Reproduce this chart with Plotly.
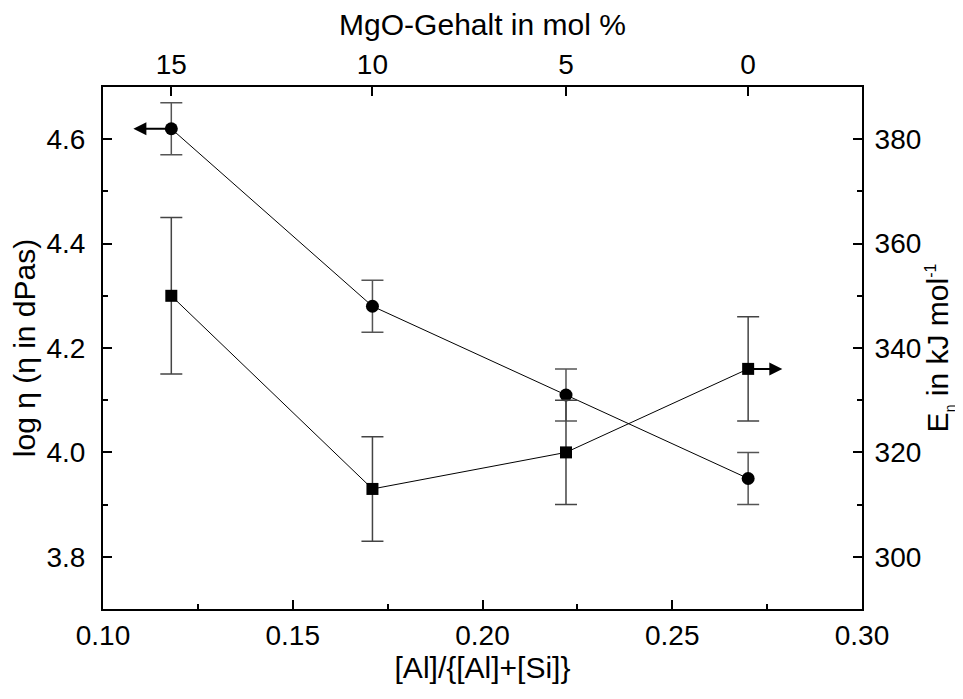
import plotly.graph_objects as go

# data
al_ratio = [0.118, 0.171, 0.222, 0.270]
log_eta = [4.62, 4.28, 4.11, 3.95]
log_eta_err = [0.05, 0.05, 0.05, 0.05]
e_eta = [350, 313, 320, 336]
e_eta_err = [15, 10, 10, 10]
mgo_ticks = ["15", "10", "5", "0"]
arrow_tip_circle = 0.108
arrow_tip_square = 0.279

FONT = "Liberation Sans, Arial, sans-serif"
FS = 28
FT = 30

fig = go.Figure()

fig.add_trace(go.Scatter(
    x=al_ratio, y=log_eta, mode="lines+markers",
    line=dict(color="black", width=1),
    marker=dict(symbol="circle", size=13, color="black"),
    error_y=dict(type="data", array=log_eta_err, color="#555555", thickness=1.5, width=11),
    xaxis="x", yaxis="y", showlegend=False))

fig.add_trace(go.Scatter(
    x=al_ratio, y=e_eta, mode="lines+markers",
    line=dict(color="black", width=1),
    marker=dict(symbol="square", size=12, color="black"),
    error_y=dict(type="data", array=e_eta_err, color="#444444", thickness=1.5, width=11),
    xaxis="x", yaxis="y2", showlegend=False))

# invisible trace to anchor top axis
fig.add_trace(go.Scatter(x=al_ratio, y=log_eta, mode="markers", marker=dict(opacity=0),
                         xaxis="x2", yaxis="y", showlegend=False, hoverinfo="skip"))

fig.add_annotation(x=arrow_tip_circle, y=log_eta[0], ax=al_ratio[0], ay=log_eta[0],
                   xref="x", yref="y", axref="x", ayref="y", text="", showarrow=True,
                   arrowhead=2, arrowsize=1.3, arrowwidth=2, arrowcolor="black",
                   standoff=0, startstandoff=0)
fig.add_annotation(x=arrow_tip_square, y=e_eta[3], ax=al_ratio[3], ay=e_eta[3],
                   xref="x", yref="y2", axref="x", ayref="y2", text="", showarrow=True,
                   arrowhead=2, arrowsize=1.3, arrowwidth=2, arrowcolor="black",
                   standoff=0, startstandoff=0)

axis_common = dict(showline=True, linecolor="black", linewidth=2, ticks="inside",
                   tickcolor="black", tickwidth=1.5, ticklen=9, showgrid=False, zeroline=False,
                   tickfont=dict(family=FONT, size=FS, color="black"))

fig.update_layout(
    width=955, height=691,
    margin=dict(l=95, r=101, t=77, b=90),
    paper_bgcolor="white", plot_bgcolor="white",
    font=dict(family=FONT, size=FS, color="black"),
    xaxis=dict(range=[0.10, 0.30], tickvals=[0.10, 0.15, 0.20, 0.25, 0.30],
               ticktext=["0.10", "0.15", "0.20", "0.25", "0.30"],
               minor=dict(tickvals=[0.125, 0.175, 0.225, 0.275], ticklen=5, ticks="inside",
                          tickcolor="black", tickwidth=1.5),
               title=dict(text="[Al]/{[Al]+[Si]}", font=dict(family=FONT, size=FT), standoff=4),
               **axis_common),
    xaxis2=dict(range=[0.10, 0.30], overlaying="x", side="top", anchor="y",
                tickvals=al_ratio, ticktext=mgo_ticks,
                title=dict(text="MgO-Gehalt in mol %", font=dict(family=FONT, size=FT), standoff=8),
                **axis_common),
    yaxis=dict(range=[3.7, 4.7], tickvals=[3.8, 4.0, 4.2, 4.4, 4.6],
               ticktext=["3.8", "4.0", "4.2", "4.4", "4.6"],
               ticklabelstandoff=10,
               minor=dict(tickvals=[3.9, 4.1, 4.3, 4.5], ticklen=5, ticks="inside",
                          tickcolor="black", tickwidth=1.5),
               title=dict(text="log η (η in dPas)", font=dict(family=FONT, size=FT), standoff=2),
               **axis_common),
    yaxis2=dict(range=[290, 390], overlaying="y", side="right", anchor="x",
                tickvals=[300, 320, 340, 360, 380],
                ticklabelstandoff=5,
                minor=dict(tickvals=[310, 330, 350, 370], ticklen=5, ticks="inside",
                           tickcolor="black", tickwidth=1.5),
                title=dict(text="E<sub><span style='font-size:14px'>η</span></sub> in kJ mol<sup><span style='font-size:16px'>-1</span></sup>",
                           font=dict(family=FONT, size=FT), standoff=0),
                **axis_common),
)

fig.write_html("out.html")
